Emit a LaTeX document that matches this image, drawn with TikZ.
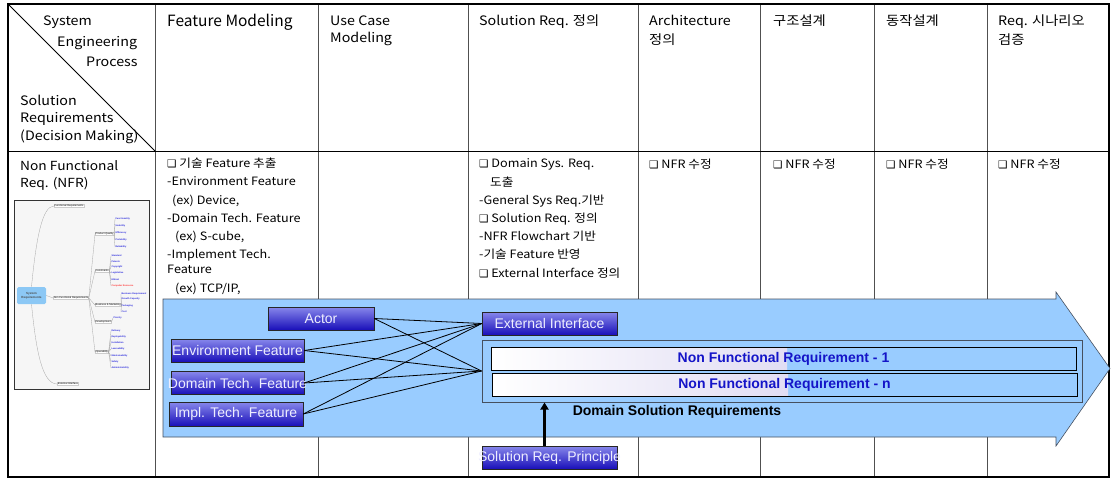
\documentclass[tikz,border=0pt]{standalone}
\usepackage{fontspec}
\setmainfont{Noto Sans CJK KR}[FakeStretch=1.1]
\newfontfamily\krplain{Noto Sans CJK KR}
\newfontfamily\arialfont{Liberation Sans}
\newfontfamily\symfont{DejaVu Sans}
\usetikzlibrary{arrows.meta, positioning, calc}
\definecolor{tblgray}{RGB}{80,80,80}
\definecolor{flowblue}{RGB}{153,204,255}
\definecolor{flowedge}{RGB}{70,80,95}
\definecolor{feattop}{RGB}{135,135,235}
\definecolor{featbot}{RGB}{25,15,185}
\definecolor{feattext}{RGB}{238,238,255}
\definecolor{nfrlav}{RGB}{196,188,232}
\definecolor{nfrtext}{RGB}{20,20,200}
\definecolor{mmback}{RGB}{246,246,246}
\definecolor{mmblue}{RGB}{140,200,245}
\definecolor{mmleaf}{RGB}{40,40,220}
\newcommand{\chk}{{\symfont\fontsize{10.5}{10}\selectfont ❑}}
% multi-line nodes sit on the baseline of their last line
\tikzset{
  hdr/.style={anchor=base west, align=left, inner sep=0pt,
    font=\fontsize{13}{17.5}\selectfont},
  cell/.style={anchor=base west, align=left, inner sep=0pt,
    font=\fontsize{11.5}{18.2}\selectfont},
  featbox/.style={draw=black!85, top color=feattop, bottom color=featbot,
    text=feattext, font=\arialfont\fontsize{14}{14}\selectfont,
    minimum height=23pt, inner sep=0pt},
  nfrbar/.style={draw=black, minimum width=585pt, minimum height=23pt,
    inner sep=0pt, text=nfrtext, font=\arialfont\bfseries\fontsize{14}{14}\selectfont,
    path picture={\shade[left color=white, right color=nfrlav]
      (path picture bounding box.south west) rectangle
      ([xshift=296pt]path picture bounding box.north west);}},
  mmtxt/.style={inner sep=0.4pt, fill=white, draw=black!20,
    font=\arialfont\fontsize{2.6}{3}\selectfont},
  mmleaf/.style={anchor=west, inner sep=0.3pt, text=mmleaf,
    font=\arialfont\bfseries\fontsize{2.3}{3}\selectfont},
  mmline/.style={black!35, line width=0.3pt}
}

\begin{document}
\begin{tikzpicture}[x=1pt, y=-1pt]
  \useasboundingbox (0,0) rectangle (1114,479);

  % table grid
  \foreach \cx in {155,318,468,638,760,874,987}
    \draw[tblgray, line width=0.8pt] (\cx,4) -- (\cx,477);
  \draw[black, line width=1pt] (8,151) -- (1109,151);
  \draw[black, line width=0.8pt] (8,4) -- (155,151);
  \draw[black, line width=1.2pt] (8,4) rectangle (1109,477);

  % header row
  \node[hdr] (hsys) at (43,25) {System};
  \node[hdr] (heng) at (57,46) {Engineering};
  \node[hdr] (hproc) at (86,66) {Process};
  \node[hdr] (hsol) at (20,140) {Solution\\Requirements\\(Decision Making)};
  \node[hdr, font=\krplain\fontsize{15.5}{18}\selectfont] (hfm) at (167,26.5) {Feature Modeling};
  \node[hdr] (huc) at (330,42.5) {Use Case\\Modeling};
  \node[hdr] (hsr) at (479,25) {Solution Req. 정의};
  \node[hdr, font=\fontsize{13}{19}\selectfont] (harch) at (649,44) {Architecture\\정의};
  \node[hdr] (hstr) at (773,25) {구조설계};
  \node[hdr] (hbeh) at (886,25) {동작설계};
  \node[hdr, font=\fontsize{13}{19}\selectfont] (hver) at (998,44) {Req. 시나리오\\검증};

  % NFR row
  \node[hdr, font=\fontsize{12.5}{17}\selectfont] (nfrlbl) at (20,187) {Non Functional\\Req. (NFR)};
  \node[cell] (fmcell) at (167,292) {\chk\ 기술 Feature 추출\\
    -Environment Feature\\
    \hspace{5pt}(ex) Device,\\
    -Domain Tech. Feature\\
    \hspace{8pt}(ex) S-cube,\\
    -Implement Tech.\\[-3pt]
    Feature\\
    \hspace{8pt}(ex) TCP/IP,};
  \node[cell] (srcell) at (479,277) {\chk\ Domain Sys. Req.\\
    \hspace{11pt}도출\\
    -General Sys Req.기반\\
    \chk\ Solution Req. 정의\\
    -NFR Flowchart 기반\\
    -기술 Feature 반영\\
    \chk\ External Interface 정의};
  \node[cell] (archcell) at (649,168) {\chk\ NFR 수정};
  \node[cell] (strcell) at (773,168) {\chk\ NFR 수정};
  \node[cell] (behcell) at (886,168) {\chk\ NFR 수정};
  \node[cell] (vercell) at (998,168) {\chk\ NFR 수정};

  % requirement tree thumbnail
  \draw[black!80, fill=mmback, line width=0.6pt] (14,200) rectangle (149,389);
  \node[fill=mmblue, rounded corners=1.5pt, inner sep=1pt, minimum width=29pt, minimum height=17pt,
    align=center, font=\arialfont\bfseries\fontsize{3}{3.6}\selectfont, text=black!70] (sysreq) at (31.5,295.5) {System\\Requirements};
  \node[mmtxt] (frq) at (69,206) {Functional Requirements};
  \node[mmtxt] (nfrq) at (71,298) {Non Functional Requirements};
  \node[mmtxt] (eif) at (68,384) {External Interface};
  \draw[mmline] (sysreq.north) .. controls (36,240) and (42,206) .. (frq.west);
  \draw[mmline] (sysreq.east) -- (nfrq.west);
  \draw[mmline] (sysreq.south) .. controls (36,350) and (42,384) .. (eif.west);
  \node[mmtxt, anchor=west] (pq) at (95,234) {Product Quality};
  \node[mmtxt, anchor=west] (cons) at (95,271) {Constraints};
  \node[mmtxt, anchor=west] (bm) at (95,305) {Business \& Marketing};
  \node[mmtxt, anchor=west] (dev) at (95,322) {Development};
  \node[mmtxt, anchor=west] (opr) at (95,352) {Operability};
  \foreach \grp in {pq,cons,bm,dev,opr}
    \draw[mmline] (nfrq.east) -- (\grp.west);
  \foreach \lbl/\ly [count=\i] in {Functionality/219,Usability/226,Efficiency/233,Portability/240,Reliability/247}
    {\node[mmleaf] (pq\i) at (115,\ly) {\lbl};
     \draw[mmline] (pq.east) -- (pq\i.west);}
  \foreach \lbl/\ly [count=\i] in {Standard/256,Patents/262,Copyright/267,Legislative/273,Ethical/280}
    {\node[mmleaf] (cons\i) at (111,\ly) {\lbl};
     \draw[mmline] (cons.east) -- (cons\i.west);}
  \node[mmleaf, text=red!80] (cons6) at (111,286) {Computer Resource};
  \draw[mmline] (cons.east) -- (cons6.west);
  \foreach \lbl/\ly [count=\i] in {Business Requirement/294,Growth Capacity/299,Packaging/306,Cost/312}
    {\node[mmleaf] (bm\i) at (121,\ly) {\lbl};
     \draw[mmline] (bm.east) -- (bm\i.west);}
  \node[mmleaf] (dev1) at (113,318) {Priority};
  \draw[mmline] (dev.east) -- (dev1.west);
  \foreach \lbl/\ly [count=\i] in {Delivery/331,Deployability/337,Installation/343,Learnability/349,Maintainability/356,Safety/362,Administrability/368}
    {\node[mmleaf] (opr\i) at (111,\ly) {\lbl};
     \draw[mmline] (opr.east) -- (opr\i.west);}

  % flow arrow
  \draw[flowedge, fill=flowblue, line width=0.6pt]
    (163,299) -- (1056,299) -- (1056,292) -- (1110,368.5)
    -- (1056,446) -- (1056,437) -- (163,437) -- cycle;

  % domain solution requirements
  \node[draw=flowedge, line width=1pt, minimum width=600pt, minimum height=62pt, inner sep=0pt] (dsr) at (782,371) {};
  \node[nfrbar] (nfr1) at (783.5,358.5) {Non Functional Requirement - 1};
  \node[nfrbar] (nfrn) at (784.5,384.5) {Non Functional Requirement - n};
  \node[font=\arialfont\bfseries\fontsize{14}{14}\selectfont] (dsrlbl) at (677,412) {Domain Solution Requirements};

  % feature boxes
  \node[featbox, minimum width=106pt] (actor) at (321,318.5) {Actor};
  \node[featbox, minimum width=133pt] (envf) at (237.5,350.5) {\makebox[0pt]{Environment Feature}};
  \node[featbox, minimum width=133pt] (domf) at (237.5,383) {\makebox[0pt]{Domain Tech. Feature}};
  \node[featbox, minimum width=134pt, minimum height=24pt] (implf) at (236,414) {\makebox[0pt]{Impl. Tech. Feature}};
  \node[featbox, minimum width=135pt] (extif) at (549.5,323.5) {External Interface};
  \node[featbox, minimum width=135pt] (princ) at (549.5,457.5) {\makebox[0pt]{Solution Req. Principle}};

  % links
  \foreach \src in {actor,envf,domf,implf} {
    \draw[black, line width=0.8pt] (\src.east) -- (extif.west);
    \draw[black, line width=0.8pt] (\src.east) -- (dsr.west);
  }
  \draw[-{Triangle[length=7pt,width=8pt]}, line width=2.2pt] ([xshift=-5pt]princ.north) -- ([xshift=-5pt]princ.north |- dsr.south);
\end{tikzpicture}
\end{document}
